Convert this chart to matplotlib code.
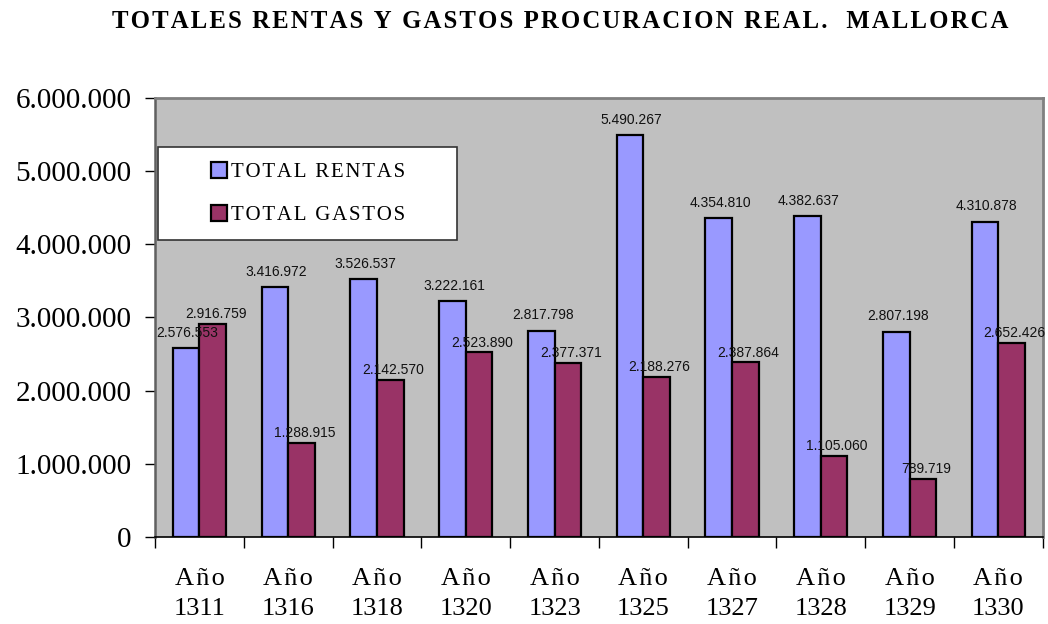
import matplotlib.pyplot as plt
import numpy as np
from matplotlib.patches import Rectangle
from matplotlib.ticker import FuncFormatter

years = ['1311', '1316', '1318', '1320', '1323', '1325', '1327', '1328', '1329', '1330']
rentas = [2576553, 3416972, 3526537, 3222161, 2817798, 5490267, 4354810, 4382637, 2807198, 4310878]
gastos = [2916759, 1288915, 2142570, 2523890, 2377371, 2188276, 2387864, 1105060, 789719, 2652426]

def miles(v):
    return '{:,.0f}'.format(v).replace(',', '.')

def spaced(s, sep='\u200a'):
    # fake letter spacing like the old excel chart
    return sep.join(s)

fig = plt.figure(figsize=(10.48, 6.24), dpi=100)
ax = fig.add_axes([0.148, 0.1394, 0.847, 0.7036])
ax.set_facecolor('#C0C0C0')

x = np.arange(len(years))
w = 0.3
ax.bar(x - w/2, rentas, w, color='#9999FF', edgecolor='black', linewidth=1.6,
       label=spaced('TOTAL RENTAS'), zorder=2)
ax.bar(x + w/2, gastos, w, color='#993366', edgecolor='black', linewidth=1.6,
       label=spaced('TOTAL GASTOS'), zorder=2)

for i in range(len(years)):
    ax.annotate(miles(rentas[i]), (x[i] - w/2, rentas[i]), xytext=(1, 6), textcoords='offset points',
                ha='center', va='bottom', fontsize=10, family='Liberation Sans', color='#111111', zorder=4)
    ax.annotate(miles(gastos[i]), (x[i] + w/2, gastos[i]), xytext=(2, 2), textcoords='offset points',
                ha='center', va='bottom', fontsize=10, family='Liberation Sans', color='#111111', zorder=4)

ax.set_xlim(-0.5, len(years) - 0.5)
ax.set_ylim(0, 6000000)
ax.set_yticks(np.arange(0, 6000001, 1000000))
ax.yaxis.set_major_formatter(FuncFormatter(lambda v, p: miles(v)))
ax.set_xticks(np.arange(-0.5, len(years), 1))
ax.set_xticklabels([])
ax.set_xticks(x, minor=True)
ax.set_xticklabels([spaced('Año') + '\n' + y for y in years], minor=True,
                   fontsize=19, family='Liberation Serif', linespacing=1.5)
ax.tick_params(axis='x', which='minor', length=0, pad=22)
ax.tick_params(axis='x', which='major', length=8, width=1, direction='out')
ax.tick_params(axis='y', length=7, width=1, labelsize=21, pad=10)
for t in ax.get_yticklabels():
    t.set_family('Liberation Serif')

ax.spines['bottom'].set_color('black')
ax.spines['bottom'].set_linewidth(1.2)
ax.spines['left'].set_color('#606060')
ax.spines['left'].set_linewidth(1.8)
ax.spines['top'].set_color('#808080')
ax.spines['top'].set_linewidth(2)
ax.spines['right'].set_color('#808080')
ax.spines['right'].set_linewidth(2)

# legend box
bx, by, bw, bh = 0.0034, 0.677, 0.337, 0.211
ax.add_patch(Rectangle((bx, by), bw, bh, transform=ax.transAxes, facecolor='white',
                       edgecolor='#333333', linewidth=1.2, zorder=5))
leg = ax.legend(loc='center', bbox_to_anchor=(bx, by, bw, bh), frameon=False,
                prop={'family': 'Liberation Serif', 'size': 15}, handlelength=0.8, handleheight=0.8,
                handletextpad=0.15, labelspacing=1.1)
leg.set_zorder(6)

fig.text(0.535, 0.966, spaced('TOTALES RENTAS Y GASTOS PROCURACION REAL.  MALLORCA'),
         ha='center', va='center', fontsize=17.8, fontweight='bold', family='Liberation Serif')

fig.savefig('out.png', dpi=100)
